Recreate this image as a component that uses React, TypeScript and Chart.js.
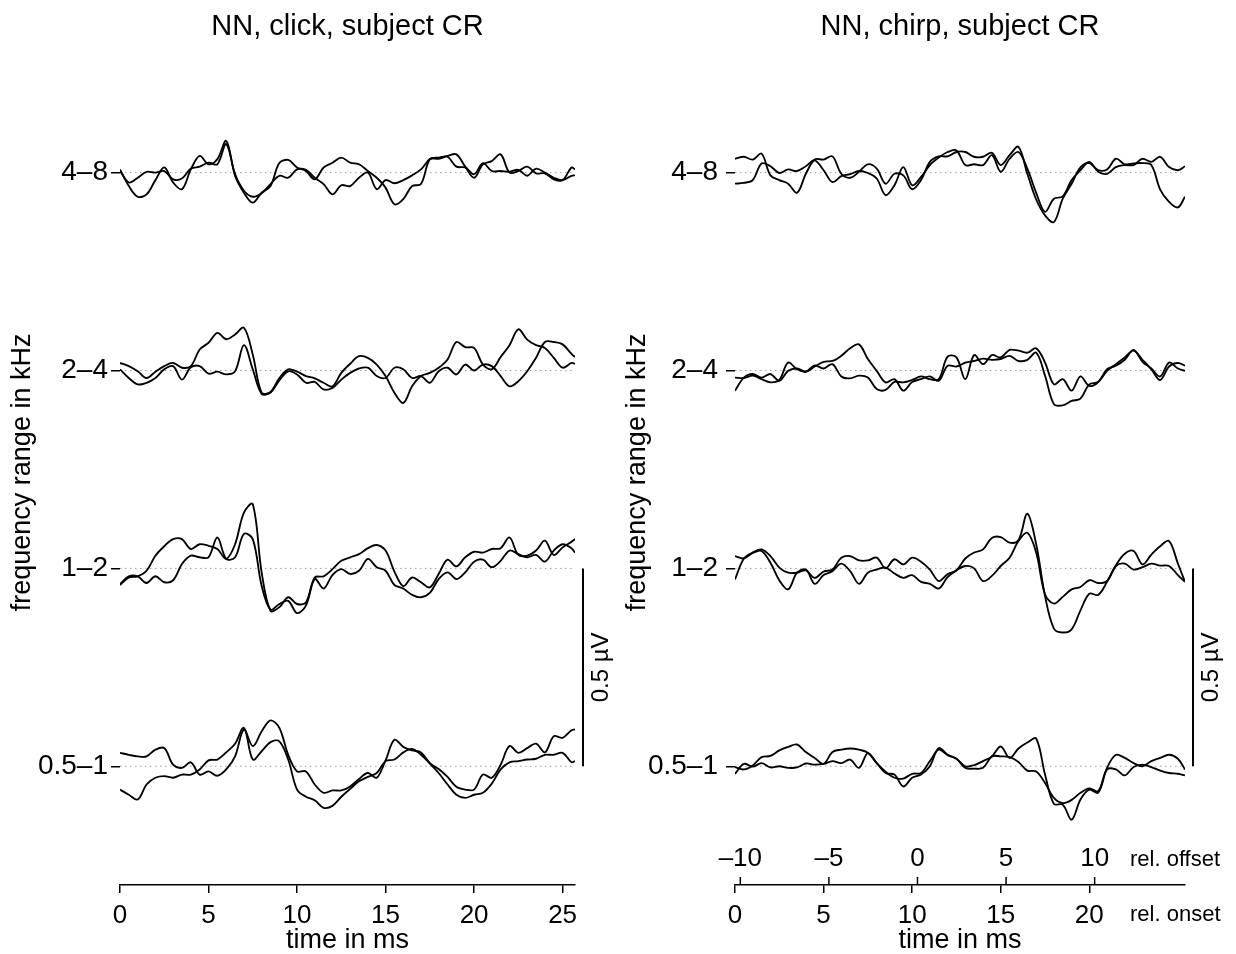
import React, { useEffect, useRef } from "react";
import { Chart, registerables } from "chart.js";

Chart.register(...registerables);

const FONT = "'Liberation Sans', Arial, Helvetica, sans-serif";

// time grids (ms)
const TIME_CLICK = [0, 0.5, 1, 1.5, 2, 2.5, 3, 3.5, 4, 4.5, 5, 5.5, 6, 6.5, 7, 7.5, 8, 8.5, 9, 9.5, 10, 10.5, 11, 11.5, 12, 12.5, 13, 13.5, 14, 14.5, 15, 15.5, 16, 16.5, 17, 17.5, 18, 18.5, 19, 19.5, 20, 20.5, 21, 21.5, 22, 22.5, 23, 23.5, 24, 24.5, 25, 25.5, 25.7];
const TIME_CHIRP = [0, 0.5, 1, 1.5, 2, 2.5, 3, 3.5, 4, 4.5, 5, 5.5, 6, 6.5, 7, 7.5, 8, 8.5, 9, 9.5, 10, 10.5, 11, 11.5, 12, 12.5, 13, 13.5, 14, 14.5, 15, 15.5, 16, 16.5, 17, 17.5, 18, 18.5, 19, 19.5, 20, 20.5, 21, 21.5, 22, 22.5, 23, 23.5, 24, 24.5, 25, 25.4];

// rows: vertical offsets in µV (row spacing equals the 0.5 µV scale bar)
const ROW_BASES = [0, 0.5, 1, 1.5];
const ROW_LABELS = ["0.5–1", "1–2", "2–4", "4–8"];
const CLICK_TICKS = [0, 5, 10, 15, 20, 25];
const ONSET_TICKS = [0, 5, 10, 15, 20];
const OFFSET_TICKS = [-10, -5, 0, 5, 10];
const CHIRP_DURATION = 10.3;
const CLICK_MAX = 25.7;
const CHIRP_MAX = 25.4;
const SCALE_BAR_UV = 0.5;
const SCALE_BAR_LABEL = "0.5 µV";

// ---- click panel (µV, relative to row baseline) ----
const CLICK_4_8_A = [0.008, -0.034, -0.061, -0.055, -0.019, 0.013, -0.025, -0.042, 0.008, 0.042, 0.021, 0.034, 0.080, -0.008, -0.051, -0.076, -0.051, -0.034, 0.024, 0.032, 0.013, 0.004, -0.017, 0.013, 0.025, 0.038, 0.025, 0.021, 0.004, -0.013, -0.038, -0.080, -0.067, -0.034, -0.029, 0.034, 0.035, 0.042, 0.046, 0.015, -0.013, 0.021, 0.029, 0.046, 0, 0.004, 0.015, -0.002, -0.002, -0.017, -0.019, 0.013, 0.008];
const CLICK_4_8_B = [0.004, -0.025, -0.013, 0.002, 0, 0.004, -0.017, -0.015, 0.010, 0.015, 0.025, 0.021, 0.072, -0.004, -0.046, -0.061, -0.052, -0.029, -0.008, -0.013, 0.008, 0.007, -0.013, -0.029, -0.055, -0.032, -0.034, -0.013, 0, -0.042, -0.019, -0.027, -0.019, -0.007, 0.008, 0.034, 0.038, 0.040, 0.015, 0.013, -0.004, 0.024, 0.004, 0.004, 0.002, 0.007, -0.008, 0.010, 0, -0.013, -0.019, -0.008, -0.007];
const CLICK_2_4_A = [0.019, 0.011, -0.002, -0.019, -0.003, 0.011, 0.019, 0.007, 0.011, 0.053, 0.070, 0.095, 0.079, 0.091, 0.108, 0.040, -0.056, -0.054, -0.019, 0.003, -0.003, -0.014, -0.020, -0.031, -0.040, -0.006, 0.017, 0.036, 0.032, 0.015, -0.014, -0.056, -0.082, -0.040, -0.014, -0.006, 0.007, 0.028, 0.072, 0.059, 0.057, 0.015, 0.003, 0.034, 0.064, 0.104, 0.078, 0.064, 0.057, 0.032, 0.007, 0.019, 0.017];
const CLICK_2_4_B = [0.003, -0.019, -0.035, -0.031, -0.019, 0.003, 0.011, -0.023, 0.008, 0.011, -0.008, -0.003, -0.010, -0.002, 0.064, 0.003, -0.059, -0.056, -0.025, -0.002, -0.010, -0.031, -0.029, -0.048, -0.044, -0.023, -0.006, 0.005, 0.007, -0.014, -0.019, 0.007, 0.003, -0.019, -0.014, -0.031, -0.002, 0.007, -0.010, 0.015, 0, 0.015, 0.011, -0.014, -0.040, -0.027, -0.002, 0.032, 0.072, 0.072, 0.066, 0.042, 0.034];
const CLICK_1_2_A = [-0.042, -0.023, -0.020, -0.006, 0.032, 0.056, 0.074, 0.074, 0.049, 0.061, 0.057, 0.049, 0.024, 0.061, 0.141, 0.162, -0.010, -0.107, -0.098, -0.073, -0.090, -0.086, -0.023, -0.020, -0.002, 0.019, 0.028, 0.036, 0.051, 0.059, 0.045, -0.008, -0.045, -0.023, -0.035, -0.048, -0.014, 0.022, 0.005, 0.028, 0.042, 0.040, 0.049, 0.051, 0.078, 0.034, 0.032, 0.045, 0.070, 0.034, 0.053, 0.067, 0.074];
const CLICK_1_2_B = [-0.040, -0.020, -0.020, -0.037, -0.020, -0.035, -0.030, 0.011, 0.032, 0.028, 0.028, 0.078, 0.024, 0.028, 0.087, 0.074, -0.044, -0.104, -0.090, -0.082, -0.113, -0.094, -0.027, -0.051, -0.017, -0.002, -0.014, -0.006, 0.024, 0.003, -0.006, -0.042, -0.051, -0.067, -0.073, -0.062, -0.027, -0.010, -0.027, -0.010, 0.017, 0.022, 0.003, 0.019, 0.045, 0.036, 0.028, 0.034, 0.017, 0.045, 0.061, 0.051, 0.040];
const CLICK_05_1_A = [0.034, 0.029, 0.025, 0.025, 0.042, 0.046, 0.004, -0.004, 0.010, -0.021, -0.013, -0.024, -0.008, 0.025, 0.093, 0.051, 0.088, 0.116, 0.097, 0.029, -0.013, -0.013, -0.046, -0.067, -0.061, -0.061, -0.051, -0.032, -0.017, -0.029, 0.015, 0.067, 0.049, 0.040, 0.035, 0.008, -0.007, -0.027, -0.052, -0.059, -0.059, -0.021, -0.029, 0.004, 0.051, 0.034, 0.046, 0.057, 0.035, 0.076, 0.072, 0.091, 0.093];
const CLICK_05_1_B = [-0.059, -0.072, -0.084, -0.046, -0.029, -0.025, -0.029, -0.021, -0.021, -0.008, 0.015, 0.017, 0.035, 0.057, 0.097, 0.017, 0.038, 0.061, 0.063, 0.017, -0.059, -0.077, -0.086, -0.105, -0.100, -0.077, -0.057, -0.038, -0.027, -0.017, 0.013, 0.017, 0.035, 0.044, 0.029, 0.007, -0.017, -0.046, -0.072, -0.080, -0.072, -0.067, -0.044, -0.008, 0.010, 0.013, 0.017, 0.019, 0.029, 0.029, 0.034, 0.010, 0.013];

// ---- chirp panel (µV, relative to row baseline) ----
const CHIRP_4_8_A = [0.035, 0.040, 0.033, 0.048, -0.007, -0.019, -0.028, -0.051, -0.003, 0.033, 0.033, 0.041, -0.003, -0.013, 0.002, 0.021, 0.010, -0.028, -0.003, -0.007, -0.042, -0.019, 0.027, 0.041, 0.041, 0.052, 0.052, 0.040, 0.040, 0.050, 0.019, 0.044, 0.065, -0.003, -0.068, -0.108, -0.125, -0.066, -0.028, 0.013, 0.024, 0.006, 0.008, 0.035, 0.021, 0.023, 0.024, 0.019, -0.043, -0.074, -0.088, -0.061];
const CHIRP_4_8_B = [-0.028, -0.026, -0.019, 0.023, 0.016, -0.001, 0.008, 0.004, 0.016, 0.031, 0.006, -0.024, -0.009, -0.004, 0.004, -0.001, -0.015, -0.057, -0.032, 0.014, -0.032, -0.011, 0.019, 0.038, 0.052, 0.056, 0.019, 0.021, 0.019, 0.044, 0.002, 0.035, 0.052, 0.010, -0.051, -0.099, -0.066, -0.060, -0.019, 0.006, 0.027, 0.002, -0.003, 0.014, 0.019, 0.019, 0.035, 0.027, 0.040, 0.014, 0.006, 0.016];
const CHIRP_2_4_A = [-0.018, -0.019, -0.013, -0.022, -0.030, -0.024, 0.020, 0.003, -0.003, 0.010, 0.022, 0.024, 0.037, 0.056, 0.066, 0.029, -0.001, -0.030, -0.022, -0.051, -0.029, -0.022, -0.015, -0.026, 0.012, 0.010, 0.020, 0.024, 0.030, 0.027, 0.029, 0.037, 0.024, 0.027, 0.045, -0.013, -0.085, -0.088, -0.077, -0.071, -0.035, -0.029, -0.001, 0.016, 0.033, 0.050, 0.027, 0.003, -0.024, 0.010, 0.019, 0.012];
const CHIRP_2_4_B = [-0.051, -0.018, -0.009, -0.018, -0.009, -0.026, -0.001, 0.005, -0.003, 0.013, 0.005, 0.016, -0.015, -0.020, -0.013, -0.018, -0.047, -0.049, -0.029, -0.030, -0.024, -0.015, -0.022, -0.022, 0.035, 0.033, -0.022, 0.039, 0.016, 0.039, 0.033, 0.052, 0.050, 0.045, 0.056, 0.020, -0.035, -0.022, -0.051, -0.015, -0.039, -0.029, 0.003, 0.012, 0.027, 0.052, 0.022, 0.005, -0.015, 0.020, 0.005, -0.001];
const CHIRP_1_2_A = [-0.028, 0.025, 0.040, 0.048, 0.031, 0.002, -0.011, -0.011, -0.005, -0.024, -0.008, -0.003, 0.027, 0.031, 0.020, 0.020, 0.027, 0, 0.023, 0.010, 0.027, 0.017, -0.003, -0.032, -0.015, -0.005, 0.025, 0.040, 0.048, 0.077, 0.079, 0.065, 0.071, 0.138, 0.061, -0.070, -0.152, -0.162, -0.154, -0.106, -0.064, -0.067, -0.034, 0.008, 0.037, 0.044, 0.010, 0.035, 0.056, 0.069, 0.012, -0.034];
const CHIRP_1_2_B = [0.031, 0.025, 0.039, 0.044, 0.014, -0.030, -0.053, -0.011, -0.003, -0.039, -0.017, -0.007, 0.012, -0.007, -0.039, -0.011, -0.003, 0.002, -0.013, -0.024, -0.017, -0.034, -0.039, -0.051, -0.022, -0.005, 0.006, 0, -0.032, -0.019, 0.006, 0.027, 0.069, 0.090, 0.040, -0.066, -0.089, -0.072, -0.053, -0.047, -0.030, -0.037, -0.032, 0.006, 0.012, -0.003, 0.003, 0.012, 0.007, 0.006, -0.017, -0.034];
const CHIRP_05_1_A = [-0.002, -0.008, 0.002, 0.023, 0.026, 0.040, 0.049, 0.055, 0.036, 0.021, 0.006, 0.036, 0.042, 0.045, 0.042, 0.034, 0.008, -0.014, -0.029, -0.031, -0.019, -0.017, 0.013, 0.042, 0.028, 0.019, 0, 0.003, 0.013, 0.025, 0.050, 0.021, 0.045, 0.060, 0.070, -0.021, -0.095, -0.097, -0.135, -0.084, -0.059, -0.067, -0.004, 0.029, 0.021, 0.008, 0, 0.013, 0.021, 0.029, 0.019, -0.008];
const CHIRP_05_1_B = [-0.019, 0.006, -0.001, 0.008, -0.003, 0, -0.004, -0.003, 0.007, 0.004, 0.006, 0.013, 0.008, 0.017, -0.004, 0.033, 0.008, -0.017, -0.021, -0.051, -0.029, -0.021, 0, 0.046, 0.029, 0.019, -0.004, -0.006, -0.004, 0.025, 0.025, 0.023, 0.011, -0.011, -0.013, -0.042, -0.080, -0.093, -0.085, -0.067, -0.056, -0.063, -0.008, -0.008, -0.023, -0.002, 0.004, -0.002, -0.011, -0.017, -0.019, -0.023];

const CLICK_ROWS = [
  [CLICK_05_1_A, CLICK_05_1_B],
  [CLICK_1_2_A, CLICK_1_2_B],
  [CLICK_2_4_A, CLICK_2_4_B],
  [CLICK_4_8_A, CLICK_4_8_B],
];
const CHIRP_ROWS = [
  [CHIRP_05_1_A, CHIRP_05_1_B],
  [CHIRP_1_2_A, CHIRP_1_2_B],
  [CHIRP_2_4_A, CHIRP_2_4_B],
  [CHIRP_4_8_A, CHIRP_4_8_B],
];

type Panel = {
  title: string;
  time: number[];
  rows: number[][][];
  max: number;
  xTicks: number[];
  yWidth: number;
  padRight: number;
  yTickPad: number;
  yTitlePad: number;
  offset: boolean;
};

const fmtTick = (v: number) => (v < 0 ? "–" + Math.abs(v) : String(v));

function buildDatasets(p: Panel) {
  const ds: any[] = [];
  p.rows.forEach((pair, i) => {
    const base = ROW_BASES[i];
    ds.push({
      data: [
        { x: 0, y: base },
        { x: p.max, y: base },
      ],
      borderColor: "#a0a0a0",
      borderWidth: 1,
      borderDash: [1.5, 3.5],
      pointRadius: 0,
      tension: 0,
      order: 2,
    });
    pair.forEach((vals) => {
      ds.push({
        data: vals.map((v, k) => ({ x: p.time[k], y: base + v })),
        borderColor: "#000",
        borderWidth: 1.85,
        pointRadius: 0,
        tension: 0.35,
        order: 1,
      });
    });
  });
  return ds;
}

function decorPlugin(p: Panel) {
  return {
    id: "decor",
    afterDraw(chart: any) {
      const { ctx, chartArea, scales } = chart;
      const y = scales.y;
      const barX = chartArea.right + 8;
      const yA = y.getPixelForValue(ROW_BASES[0]);
      const yB = y.getPixelForValue(ROW_BASES[0] + SCALE_BAR_UV);
      ctx.save();
      ctx.strokeStyle = "#000";
      ctx.lineWidth = 2;
      ctx.beginPath();
      ctx.moveTo(barX, yA);
      ctx.lineTo(barX, yB);
      ctx.stroke();
      ctx.translate(barX + 18, (yA + yB) / 2);
      ctx.rotate(-Math.PI / 2);
      ctx.font = `24px ${FONT}`;
      ctx.fillStyle = "#000";
      ctx.textAlign = "center";
      ctx.textBaseline = "middle";
      ctx.fillText(SCALE_BAR_LABEL, 0, 0);
      ctx.restore();

      if (p.offset) {
        const xo = scales.xo;
        const axisY = scales.x.top;
        ctx.save();
        ctx.strokeStyle = "#000";
        ctx.fillStyle = "#000";
        ctx.lineWidth = 1.5;
        ctx.font = `26px ${FONT}`;
        ctx.textAlign = "center";
        ctx.textBaseline = "middle";
        OFFSET_TICKS.forEach((v) => {
          const px = xo.getPixelForValue(v);
          ctx.beginPath();
          ctx.moveTo(px, axisY);
          ctx.lineTo(px, axisY - 8);
          ctx.stroke();
          ctx.fillText(fmtTick(v), px, axisY - 26);
        });
        ctx.font = `22px ${FONT}`;
        ctx.textAlign = "left";
        ctx.fillText("rel. offset", chartArea.right - 55, axisY - 25);
        ctx.fillText("rel. onset", chartArea.right - 55, axisY + 30);
        ctx.restore();
      }
    },
  };
}

function makeConfig(p: Panel): any {
  const scales: any = {
    x: {
      type: "linear",
      position: "bottom",
      min: 0,
      max: p.max,
      afterBuildTicks: (s: any) => {
        s.ticks = p.xTicks.map((v) => ({ value: v }));
      },
      afterFit: (s: any) => {
        s.height = 69;
      },
      ticks: {
        font: { family: FONT, size: 26 },
        color: "#000",
        padding: 7,
        maxRotation: 0,
        autoSkip: false,
        callback: (v: number) => fmtTick(v),
      },
      grid: {
        display: true,
        drawOnChartArea: false,
        drawTicks: true,
        tickLength: 8,
        color: "#000",
        lineWidth: 1.5,
      },
      border: { display: true, color: "#000", width: 1.5 },
      title: {
        display: true,
        text: "time in ms",
        color: "#000",
        font: { family: FONT, size: 27, lineHeight: 1 },
        padding: { top: 0, bottom: 0 },
      },
    },
    y: {
      type: "linear",
      position: "left",
      min: -0.3,
      max: 1.785,
      afterBuildTicks: (s: any) => {
        s.ticks = ROW_BASES.map((v) => ({ value: v }));
      },
      afterFit: (s: any) => {
        s.width = p.yWidth;
      },
      ticks: {
        font: { family: FONT, size: 28 },
        color: "#000",
        padding: p.yTickPad,
        autoSkip: false,
        callback: (v: number) => ROW_LABELS[ROW_BASES.indexOf(v)],
      },
      grid: {
        display: true,
        drawOnChartArea: false,
        drawTicks: true,
        tickLength: 9,
        color: "#000",
        lineWidth: 1.5,
      },
      border: { display: false },
      title: {
        display: true,
        text: "frequency range in kHz",
        color: "#000",
        font: { family: FONT, size: 27 },
        padding: { top: p.yTitlePad, bottom: 0 },
      },
    },
  };
  if (p.offset) {
    scales.xo = {
      type: "linear",
      display: false,
      min: -CHIRP_DURATION,
      max: p.max - CHIRP_DURATION,
    };
  }
  return {
    type: "line",
    data: { datasets: buildDatasets(p) },
    options: {
      animation: false,
      responsive: false,
      events: [],
      layout: { padding: { top: 0, left: 0, right: p.padRight, bottom: 0 } },
      plugins: {
        legend: { display: false },
        tooltip: { enabled: false },
        title: {
          display: true,
          text: p.title,
          fullSize: false,
          color: "#000",
          font: { family: FONT, size: 29, weight: "normal" },
          padding: { top: 10, bottom: 15 },
        },
      },
      scales,
    },
    plugins: [decorPlugin(p)],
  };
}

const CLICK_PANEL: Panel = {
  title: "NN, click, subject CR",
  time: TIME_CLICK,
  rows: CLICK_ROWS,
  max: CLICK_MAX,
  xTicks: CLICK_TICKS,
  yWidth: 120,
  padRight: 43,
  yTickPad: 3,
  yTitlePad: 6,
  offset: false,
};

const CHIRP_PANEL: Panel = {
  title: "NN, chirp, subject CR",
  time: TIME_CHIRP,
  rows: CHIRP_ROWS,
  max: CHIRP_MAX,
  xTicks: ONSET_TICKS,
  yWidth: 117,
  padRight: 51,
  yTickPad: 8,
  yTitlePad: 3,
  offset: true,
};

export default function App() {
  const leftRef = useRef<HTMLCanvasElement | null>(null);
  const rightRef = useRef<HTMLCanvasElement | null>(null);

  useEffect(() => {
    const charts: Chart[] = [];
    if (leftRef.current) charts.push(new Chart(leftRef.current, makeConfig(CLICK_PANEL)));
    if (rightRef.current) charts.push(new Chart(rightRef.current, makeConfig(CHIRP_PANEL)));
    return () => {
      charts.forEach((c) => c.destroy());
    };
  }, []);

  return (
    <div style={{ position: "fixed", left: 0, top: 0, width: 1236, height: 954, background: "#fff" }}>
      <canvas ref={leftRef} width={618} height={954} style={{ position: "absolute", left: 0, top: 0 }} />
      <canvas ref={rightRef} width={618} height={954} style={{ position: "absolute", left: 618, top: 0 }} />
    </div>
  );
}
